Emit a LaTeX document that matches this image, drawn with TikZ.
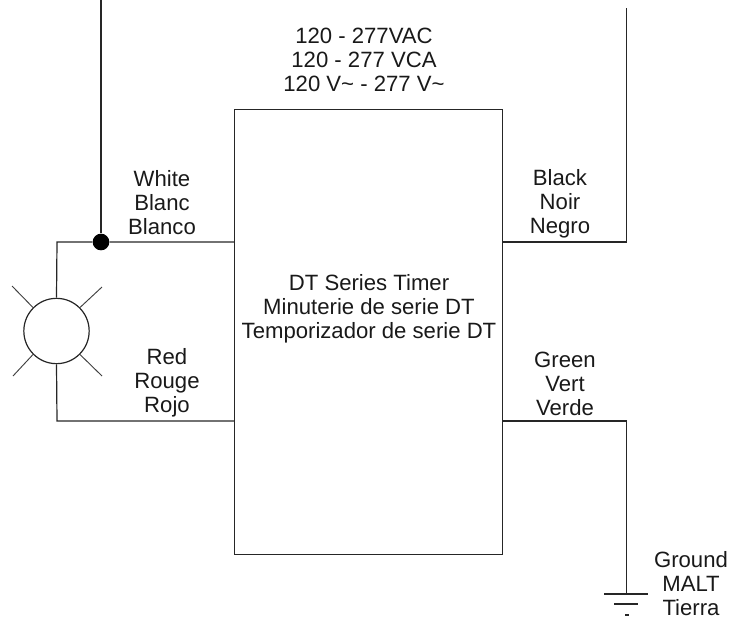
\documentclass[tikz,border=0pt]{standalone}
\usepackage{fontspec}
\setmainfont{Liberation Sans}
\begin{document}
\begin{tikzpicture}[x=0.75pt,y=-0.75pt,
  wire/.style={draw=black!85,line width=0.9pt},
  lbl/.style={align=center,inner sep=0pt,font=\fontsize{16.6pt}{18pt}\selectfont,text=black!90},
  ray/.style={draw=black!75,line width=0.7pt}]
\useasboundingbox (0,0) rectangle (732,618);
\node[wire,draw,minimum width=201pt,minimum height=333.75pt,inner sep=0pt,anchor=north west] (box) at (234,109) {};
\node[lbl] (title) at (369,309) {DT Series Timer\\Minuterie de serie DT\\Temporizador de serie DT};
\node[lbl] (volt) at (364,60) {120 - 277VAC\\120 - 277 VCA\\120 V\textasciitilde{} - 277 V\textasciitilde};
\node[lbl] (white) at (162,203) {White\\Blanc\\Blanco};
\node[lbl] (red) at (167,383) {Red\\Rouge\\Rojo};
\node[lbl] (black) at (560,204) {Black\\Noir\\Negro};
\node[lbl] (green) at (565,384) {Green\\Vert\\Verde};
\node[lbl] (ground) at (691,584) {Ground\\MALT\\Tierra};
\node[circle,draw=black!85,line width=0.9pt,minimum size=49pt,inner sep=0pt] (lamp) at (56.5,331) {};
\node[circle,fill=black,minimum size=12.5pt,inner sep=0pt] (dot) at (101,242) {};
\coordinate (boxw) at (234,242);
\coordinate (boxr) at (234,421);
\coordinate (boxb) at (503,242);
\coordinate (boxg) at (503,421);
\coordinate (top1) at (101,0);
\coordinate (top2) at (626.5,8);
\coordinate (gnd) at (626.5,594);
\draw[wire] (top1) -- (dot);
\draw[wire] (boxw) -- (dot) -- (57,242) -- (lamp.north);
\draw[wire] (boxr) -- (57,421) -- (lamp.south);
\draw[wire] (boxb) -- (626.5,242) -- (top2);
\draw[wire] (boxg) -- (626.5,421) -- (gnd);
\draw[wire] (604,594) -- (648,594);
\draw[wire] (614,604) -- (638,604);
\draw[wire] (625,615) -- (629,615);
\draw[ray] (lamp.135) -- (12,286);
\draw[ray] (lamp.45) -- (102,287);
\draw[ray] (lamp.225) -- (13,376);
\draw[ray] (lamp.315) -- (102,376);
\end{tikzpicture}
\end{document}
